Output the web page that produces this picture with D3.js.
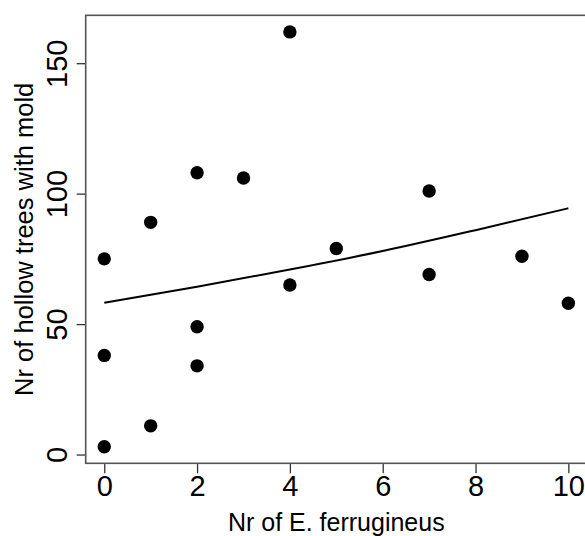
<!DOCTYPE html>
<html>
<head>
<meta charset="utf-8">
<script src="https://cdn.jsdelivr.net/npm/d3@7"></script>
<style>
  body { margin: 0; background: #fff; }
  svg { display: block; font-family: "Liberation Sans", Arial, sans-serif; }
</style>
</head>
<body>
<svg id="chart" width="585" height="536"></svg>
<script>
// observed counts
var beetles = [0, 0, 0, 1, 1, 2, 2, 2, 3, 4, 4, 5, 7, 7, 9, 10];
var moldTrees = [75, 38, 3, 89, 11, 108, 49, 34, 106, 162, 65, 79, 101, 69, 76, 58];

// fitted curve
var fitX = [0, 2, 4, 6, 8, 10];
var fitY = [58.2, 64.3, 70.9, 78.0, 86.0, 94.4];

var xTicks = [0, 2, 4, 6, 8, 10];
var yTicks = [0, 50, 100, 150];

var svg = d3.select('#chart');

var box = {left: 85.7, right: 586.9, top: 15.3, bottom: 463.3};

var x = d3.scaleLinear().domain([-0.4, 10.4]).range([box.left, box.right]);
var y = d3.scaleLinear().domain([-3.36, 168.36]).range([box.bottom, box.top]);

// x axis
var xAxis = svg.append('g')
    .attr('transform', 'translate(0,' + box.bottom + ')')
    .call(d3.axisBottom(x).tickValues(xTicks).tickSize(10).tickSizeOuter(0).tickFormat(d3.format('d')));
xAxis.select('.domain').remove();
xAxis.selectAll('line').attr('stroke', '#333').attr('stroke-width', 1.3);
xAxis.selectAll('text')
    .attr('y', 33)
    .attr('dy', 0)
    .attr('fill', '#000')
    .style('font-size', '29px');

// y axis, labels rotated like R's default
var yAxis = svg.append('g')
    .attr('transform', 'translate(' + box.left + ',0)')
    .call(d3.axisLeft(y).tickValues(yTicks).tickSize(9).tickSizeOuter(0).tickFormat(d3.format('d')));
yAxis.select('.domain').remove();
yAxis.selectAll('line').attr('stroke', '#333').attr('stroke-width', 1.3);
yAxis.selectAll('text')
    .attr('x', 0)
    .attr('dy', 0)
    .attr('text-anchor', 'middle')
    .attr('transform', 'translate(-19,0) rotate(-90)')
    .attr('fill', '#000')
    .style('font-size', '29px');

// plot frame
svg.append('rect')
    .attr('x', box.left)
    .attr('y', box.top)
    .attr('width', box.right - box.left)
    .attr('height', box.bottom - box.top)
    .attr('fill', 'none')
    .attr('stroke', '#555')
    .attr('stroke-width', 1.6);

// fitted line
var line = d3.line()
    .x(function(d, i){ return x(fitX[i]); })
    .y(function(d){ return y(d); })
    .curve(d3.curveMonotoneX);

svg.append('path')
    .datum(fitY)
    .attr('d', line)
    .attr('fill', 'none')
    .attr('stroke', '#000')
    .attr('stroke-width', 2);

// points
svg.append('g').selectAll('circle')
    .data(moldTrees)
    .enter().append('circle')
    .attr('cx', function(d, i){ return x(beetles[i]); })
    .attr('cy', function(d){ return y(d); })
    .attr('r', 6.7)
    .attr('fill', '#000');

// axis titles
svg.append('text')
    .attr('x', (box.left + box.right) / 2)
    .attr('y', 531)
    .attr('text-anchor', 'middle')
    .style('font-size', '25px')
    .text('Nr of E. ferrugineus');

svg.append('text')
    .attr('transform', 'translate(33,' + (box.top + box.bottom) / 2 + ') rotate(-90)')
    .attr('text-anchor', 'middle')
    .style('font-size', '25.5px')
    .text('Nr of hollow trees with mold');
</script>
</body>
</html>
